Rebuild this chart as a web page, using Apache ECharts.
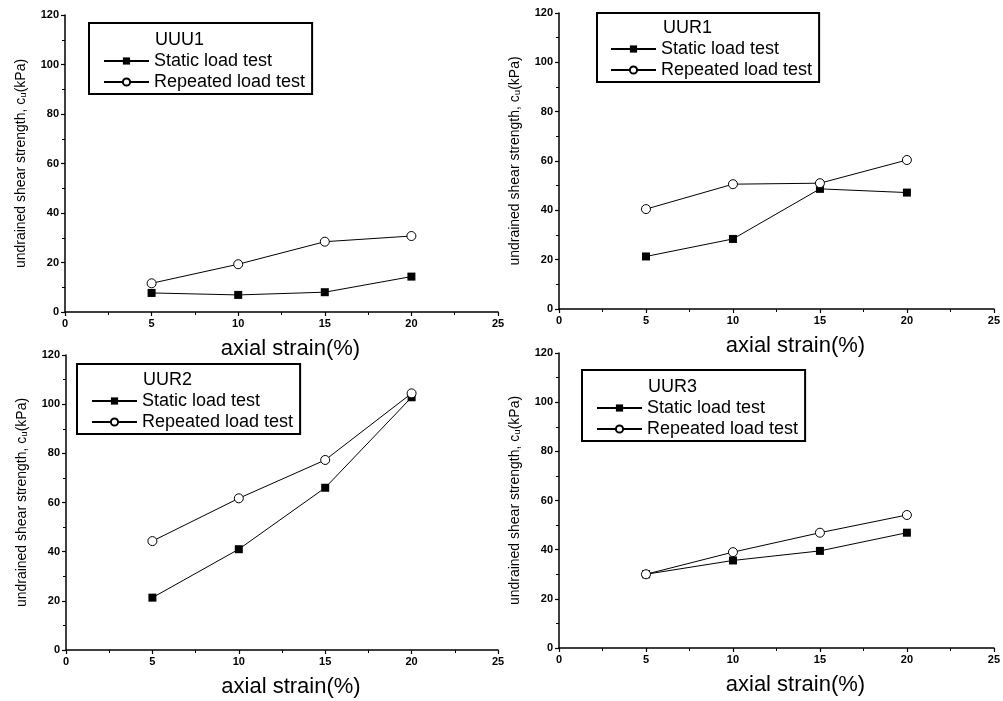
<!DOCTYPE html>
<html>
<head>
<meta charset="utf-8">
<script src="https://cdn.jsdelivr.net/npm/echarts@6/dist/echarts.min.js"></script>
<style>
  html, body { margin: 0; padding: 0; background: #fff; }
  #main { width: 1003px; height: 701px; }
</style>
</head>
<body>
<div id="main"></div>
<script>
// axial strain (%) at which each test was read
const strain = [5, 10, 15, 20];

// undrained shear strength cu (kPa)
const uuu1Static = [7.7, 6.9, 8.0, 14.3];
const uuu1Repeated = [11.6, 19.3, 28.4, 30.7];
const uur1Static = [21.3, 28.4, 48.7, 47.2];
const uur1Repeated = [40.5, 50.6, 51.0, 60.4];
const uur2Static = [21.3, 41.0, 66.0, 102.8];
const uur2Repeated = [44.3, 61.7, 77.3, 104.4];
const uur3Static = [30.0, 35.6, 39.5, 46.9];
const uur3Repeated = [30.0, 39.0, 46.9, 54.1];

const panelNames = ['UUU1', 'UUR1', 'UUR2', 'UUR3'];
const staticSets = [uuu1Static, uur1Static, uur2Static, uur3Static];
const repeatedSets = [uuu1Repeated, uur1Repeated, uur2Repeated, uur3Repeated];

const FONT = '"Liberation Sans", Arial, Helvetica, sans-serif';

// panel placement
const layout = [
  { grid: { left: 65, top: 15, width: 433, height: 297 }, legend: { left: 89, top: 23, pad: [29, 7, 3, 14] }, title: { left: 155, top: 31 }, xShift: 18 },
  { grid: { left: 559, top: 13, width: 435, height: 296 }, legend: { left: 597, top: 13, pad: [27, 7, 3, 13] }, title: { left: 663, top: 19 }, xShift: 38 },
  { grid: { left: 66, top: 355, width: 432, height: 295 }, legend: { left: 77, top: 364, pad: [28, 7, 3, 14] }, title: { left: 143, top: 371 }, xShift: 18 },
  { grid: { left: 559, top: 353, width: 435, height: 295 }, legend: { left: 582, top: 370, pad: [29, 7, 3, 14] }, title: { left: 648, top: 378 }, xShift: 38 }
];

const chart = echarts.init(document.getElementById('main'));

const grids = [], xAxes = [], yAxes = [], series = [], legends = [], titles = [];

layout.forEach((p, i) => {
  grids.push(p.grid);
  xAxes.push({
    gridIndex: i,
    type: 'value',
    min: 0, max: 25, interval: 5,
    name: 'axial strain(%)',
    nameLocation: 'middle',
    nameGap: 26,
    nameTextStyle: { fontFamily: FONT, fontSize: 22, color: '#000', padding: [0, 0, 0, p.xShift] },
    axisLine: { lineStyle: { color: '#000', width: 1.5 } },
    axisTick: { length: 4, lineStyle: { color: '#000', width: 1.2 } },
    minorTick: { show: true, splitNumber: 2, length: 3, lineStyle: { color: '#000', width: 1 } },
    axisLabel: { fontFamily: FONT, fontSize: 11, fontWeight: 'bold', color: '#000', margin: 6 },
    splitLine: { show: false }
  });
  yAxes.push({
    gridIndex: i,
    type: 'value',
    min: 0, max: 120, interval: 20,
    name: 'undrained shear strength, c\u1D64(kPa)',
    nameLocation: 'middle',
    nameGap: 37,
    nameTextStyle: { fontFamily: FONT, fontSize: 14, color: '#000' },
    axisLine: { show: true, lineStyle: { color: '#000', width: 1.5 } },
    axisTick: { show: true, length: 4, lineStyle: { color: '#000', width: 1.2 } },
    minorTick: { show: true, splitNumber: 2, length: 3, lineStyle: { color: '#000', width: 1 } },
    axisLabel: { fontFamily: FONT, fontSize: 11, fontWeight: 'bold', color: '#000', margin: 6 },
    splitLine: { show: false }
  });
  series.push({
    name: 'Static load test',
    type: 'line',
    xAxisIndex: i, yAxisIndex: i,
    data: strain.map((s, k) => [s, staticSets[i][k]]),
    symbol: 'rect', symbolSize: 8,
    itemStyle: { color: '#000' },
    lineStyle: { color: '#000', width: 1 },
    animation: false
  });
  series.push({
    name: 'Repeated load test',
    type: 'line',
    xAxisIndex: i, yAxisIndex: i,
    data: strain.map((s, k) => [s, repeatedSets[i][k]]),
    symbol: 'circle', symbolSize: 9,
    showAllSymbol: true,
    itemStyle: { color: '#fff', borderColor: '#000', borderWidth: 1 },
    lineStyle: { color: '#000', width: 1 },
    z: 3,
    animation: false
  });
  legends.push({
    orient: 'vertical',
    left: p.legend.left, top: p.legend.top,
    padding: p.legend.pad,
    borderColor: '#000', borderWidth: 2,
    itemWidth: 45, itemHeight: 9, itemGap: 3, itemTextGap: 8,
    selectedMode: false,
    textStyle: { fontFamily: FONT, fontSize: 18, color: '#000', lineHeight: 18 },
    data: ['Static load test', 'Repeated load test']
  });
  titles.push({
    text: panelNames[i],
    left: p.title.left, top: p.title.top,
    padding: 0,
    textStyle: { fontFamily: FONT, fontSize: 18, fontWeight: 'normal', color: '#000' }
  });
});

chart.setOption({
  backgroundColor: '#fff',
  animation: false,
  title: titles,
  legend: legends,
  grid: grids,
  xAxis: xAxes,
  yAxis: yAxes,
  series: series
});
</script>
</body>
</html>
